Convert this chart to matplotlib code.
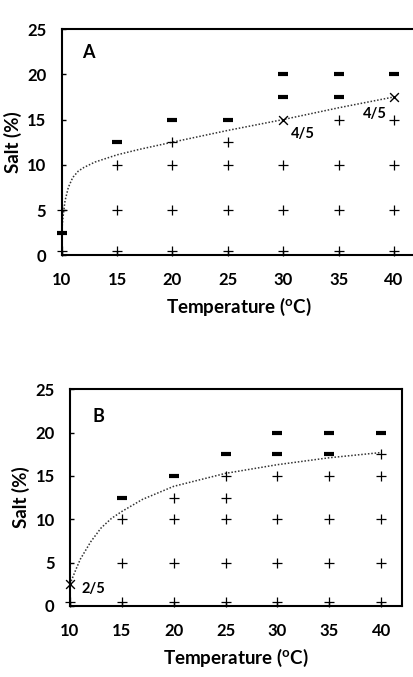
import matplotlib.pyplot as plt

plt.rcParams['font.family'] = ['Lato', 'DejaVu Sans']
plt.rcParams['font.weight'] = 'bold'
plt.rcParams['mathtext.default'] = 'regular'

# panel A observations
a_plus_x = [10, 10, 15, 15, 15, 20, 20, 20, 20, 25, 25, 25, 25, 30, 30, 30, 35, 35, 35, 35, 40, 40, 40, 40]
a_plus_y = [0.5, 5, 0.5, 5, 10, 0.5, 5, 10, 12.5, 0.5, 5, 10, 12.5, 0.5, 5, 10, 0.5, 5, 10, 15, 0.5, 5, 10, 15]
a_minus_x = [10, 15, 20, 25, 30, 30, 35, 35, 40]
a_minus_y = [2.5, 12.5, 15, 15, 17.5, 20, 17.5, 20, 20]
a_cross_x = [30, 40]
a_cross_y = [15, 17.5]
a_curve_x = [10.0, 10.1, 10.3, 10.6, 11, 11.5, 12, 13, 14, 15, 17, 20, 25, 30, 35, 40]
a_curve_y = [2.5, 4.0, 6.0, 7.5, 8.6, 9.3, 9.7, 10.3, 10.7, 11.1, 11.7, 12.5, 13.8, 15.0, 16.3, 17.5]

# panel B observations
b_plus_x = [10, 15, 15, 15, 20, 20, 20, 20, 25, 25, 25, 25, 25, 30, 30, 30, 30, 35, 35, 35, 35, 40, 40, 40, 40, 40]
b_plus_y = [0.5, 0.5, 5, 10, 0.5, 5, 10, 12.5, 0.5, 5, 10, 12.5, 15, 0.5, 5, 10, 15, 0.5, 5, 10, 15, 0.5, 5, 10, 15, 17.5]
b_minus_x = [15, 20, 25, 30, 30, 35, 35, 40]
b_minus_y = [12.5, 15, 17.5, 17.5, 20, 17.5, 20, 20]
b_cross_x = [10]
b_cross_y = [2.5]
b_curve_x = [10, 10.5, 11, 12, 12.5, 13, 14, 15, 17, 20, 25, 30, 35, 40]
b_curve_y = [2.5, 4.0, 5.4, 7.4, 8.2, 9.0, 10.1, 10.9, 12.3, 13.8, 15.3, 16.3, 17.1, 17.7]

ticks_x = [10, 15, 20, 25, 30, 35, 40]
ticks_y = [0, 5, 10, 15, 20, 25]

fig = plt.figure(figsize=(4.14, 6.77), dpi=100)
ax1 = fig.add_axes([0.149, 0.623, 0.856, 0.334])
ax2 = fig.add_axes([0.169, 0.105, 0.802, 0.320])


def panel(ax, px, py, mx, my, cx, cy, lx, ly, letter, lpos):
    ax.plot(lx, ly, ls=(0, (1, 1.2)), color='#333333', lw=1.1, zorder=1)
    ax.scatter(px, py, marker='+', s=55, color='black', linewidths=0.9, zorder=3, clip_on=False)
    ax.scatter(mx, my, marker='_', s=60, color='black', linewidths=3.0, zorder=3, clip_on=False)
    ax.scatter(cx, cy, marker='x', s=40, color='black', linewidths=1.0, zorder=3, clip_on=False)
    ax.set_xlim(10, 42)
    ax.set_ylim(0, 25)
    ax.set_xticks(ticks_x)
    ax.set_yticks(ticks_y)
    ax.tick_params(direction='in', length=3, width=1, labelsize=12)
    ax.tick_params(axis='x', pad=12)
    ax.tick_params(axis='y', pad=11)
    for lab in ax.get_xticklabels() + ax.get_yticklabels():
        lab.set_fontweight('bold')
    for s in ax.spines.values():
        s.set_linewidth(1.5)
    ax.set_xlabel('Temperature ($^o$C)', fontsize=13.5, fontweight='bold', labelpad=6)
    ax.set_ylabel('Salt (%)', fontsize=13.5, fontweight='bold', labelpad=4)
    ax.text(lpos[0], lpos[1], letter, fontsize=13, fontweight='bold', ha='center', va='center')


panel(ax1, a_plus_x, a_plus_y, a_minus_x, a_minus_y, a_cross_x, a_cross_y,
      a_curve_x, a_curve_y, 'A', (12.4, 22.4))
ax1.text(31.8, 13.4, '4/5', fontsize=10.5, fontweight='bold', ha='center', va='center')
ax1.text(38.3, 15.6, '4/5', fontsize=10.5, fontweight='bold', ha='center', va='center')

panel(ax2, b_plus_x, b_plus_y, b_minus_x, b_minus_y, b_cross_x, b_cross_y,
      b_curve_x, b_curve_y, 'B', (12.7, 21.9))
ax2.text(12.3, 2.0, '2/5', fontsize=10.5, fontweight='bold', ha='center', va='center')

fig.savefig('out.png', dpi=100)
